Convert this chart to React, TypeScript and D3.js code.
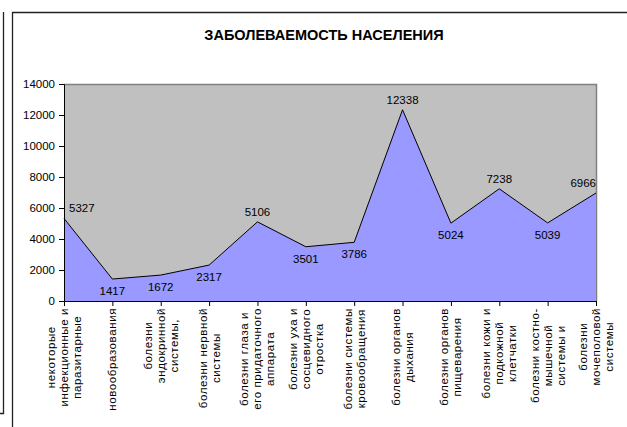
import { useEffect, useRef } from 'react';
import * as d3 from 'd3';

const TITLE = 'ЗАБОЛЕВАЕМОСТЬ НАСЕЛЕНИЯ';

const categories: string[][] = [
  ['некоторые', 'инфекционные и', 'паразитарные'],
  ['новообразования'],
  ['болезни', 'эндокринной', 'системы,'],
  ['болезни нервной', 'системы'],
  ['болезни глаза и', 'его придаточного', 'аппарата'],
  ['болезни уха и', 'сосцевидного', 'отростка'],
  ['болезни системы', 'кровообращения'],
  ['болезни органов', 'дыхания'],
  ['болезни органов', 'пищеварения'],
  ['болезни кожи и', 'подкожной', 'клетчатки'],
  ['болезни костно-', 'мышечной', 'системы и'],
  ['болезни', 'мочеполовой', 'системы'],
];

const values = [5327, 1417, 1672, 2317, 5106, 3501, 3786, 12338, 5024, 7238, 5039, 6966];

const yTicks = [0, 2000, 4000, 6000, 8000, 10000, 12000, 14000];

const W = 627;
const H = 427;
const PLOT = { left: 64, right: 596, top: 84, bottom: 301 };
const FONT = '"Liberation Sans", Arial, sans-serif';
const LINE_H = 13;

export default function App() {
  const svgRef = useRef<SVGSVGElement>(null);

  useEffect(() => {
    if (!svgRef.current) return;
    const svg = d3.select(svgRef.current);
    svg.selectAll('*').remove();

    const x = d3.scalePoint<number>()
      .domain(values.map((_, i) => i))
      .range([PLOT.left, PLOT.right]);
    const y = d3.scaleLinear().domain([0, 14000]).range([PLOT.bottom, PLOT.top]);

    // ── Frames ─────────────────────────────────────────────
    svg.append('path')
      .attr('d', 'M3.5,12 V413.5 H0')
      .attr('fill', 'none').attr('stroke', '#222').attr('stroke-width', 1.3);
    svg.append('path')
      .attr('d', `M12.5,${H} V12.5 H${W}`)
      .attr('fill', 'none').attr('stroke', '#222').attr('stroke-width', 1.3);

    // ── Title ──────────────────────────────────────────────
    svg.append('text')
      .attr('x', 324).attr('y', 40)
      .attr('text-anchor', 'middle')
      .attr('font-family', FONT).attr('font-size', 14.5).attr('font-weight', 700)
      .text(TITLE);

    // ── Plot background ────────────────────────────────────
    svg.append('rect')
      .attr('x', PLOT.left).attr('y', PLOT.top)
      .attr('width', PLOT.right - PLOT.left).attr('height', PLOT.bottom - PLOT.top)
      .attr('fill', '#c0c0c0');
    svg.append('path')
      .attr('d', `M${PLOT.left},${PLOT.top + 0.5} H${PLOT.right + 0.5} V${PLOT.bottom}`)
      .attr('fill', 'none').attr('stroke', '#808080').attr('stroke-width', 1.5);

    // ── Area ───────────────────────────────────────────────
    const area = d3.area<number>()
      .x((_, i) => x(i)!)
      .y0(y(0))
      .y1(d => y(d));
    const line = d3.line<number>()
      .x((_, i) => x(i)!)
      .y(d => y(d));

    svg.append('path').attr('d', area(values)!).attr('fill', '#9999ff');
    svg.append('path').attr('d', line(values)!)
      .attr('fill', 'none').attr('stroke', '#000').attr('stroke-width', 1);

    // ── Axes ───────────────────────────────────────────────
    const yAxis = svg.append('g').attr('transform', `translate(${PLOT.left},0)`)
      .call(d3.axisLeft(y).tickValues(yTicks).tickSize(5).tickPadding(4).tickFormat(d3.format('d')));
    yAxis.select('.domain').attr('stroke', '#000');
    yAxis.selectAll('text').attr('font-family', FONT).attr('font-size', 11.5).attr('fill', '#000');

    const xAxis = svg.append('g').attr('transform', `translate(0,${PLOT.bottom})`)
      .call(d3.axisBottom(x).tickSize(5).tickFormat(() => ''));
    xAxis.select('.domain').attr('stroke', '#000').attr('d', `M${PLOT.left},0.5H${PLOT.right}`);

    // ── Category labels (rotated, centered lines) ──────────
    categories.forEach((lines, i) => {
      const g = svg.append('g');
      const texts = lines.map(ln =>
        g.append('text')
          .attr('font-family', FONT).attr('font-size', 11.5)
          .attr('letter-spacing', 0.6)
          .attr('text-anchor', 'middle')
          .text(ln)
      );
      const maxLen = d3.max(texts, t => (t.node() as SVGTextElement).getComputedTextLength()) ?? 0;
      const cy = PLOT.bottom + 7 + maxLen / 2;
      texts.forEach((t, j) => {
        const cx = x(i)! + (j - (lines.length - 1) / 2) * LINE_H + 4;
        t.attr('transform', `translate(${cx},${cy}) rotate(-90)`);
      });
    });

    // ── Data labels ────────────────────────────────────────
    values.forEach((v, i) => {
      const prev = i > 0 ? values[i - 1] : -Infinity;
      const next = i < values.length - 1 ? values[i + 1] : -Infinity;
      const above = v > prev && v > next;
      const anchor = i === 0 ? 'start' : i === values.length - 1 ? 'end' : 'middle';
      const dx = i === 0 ? 5 : 0;
      svg.append('text')
        .attr('x', x(i)! + dx)
        .attr('y', above ? y(v) - 6 : y(v) + 16)
        .attr('text-anchor', anchor)
        .attr('font-family', FONT).attr('font-size', 11.5)
        .text(v);
    });
  }, []);

  return (
    <svg ref={svgRef} width={W} height={H}
      style={{ position: 'absolute', left: 0, top: 0, background: '#fff' }} />
  );
}
